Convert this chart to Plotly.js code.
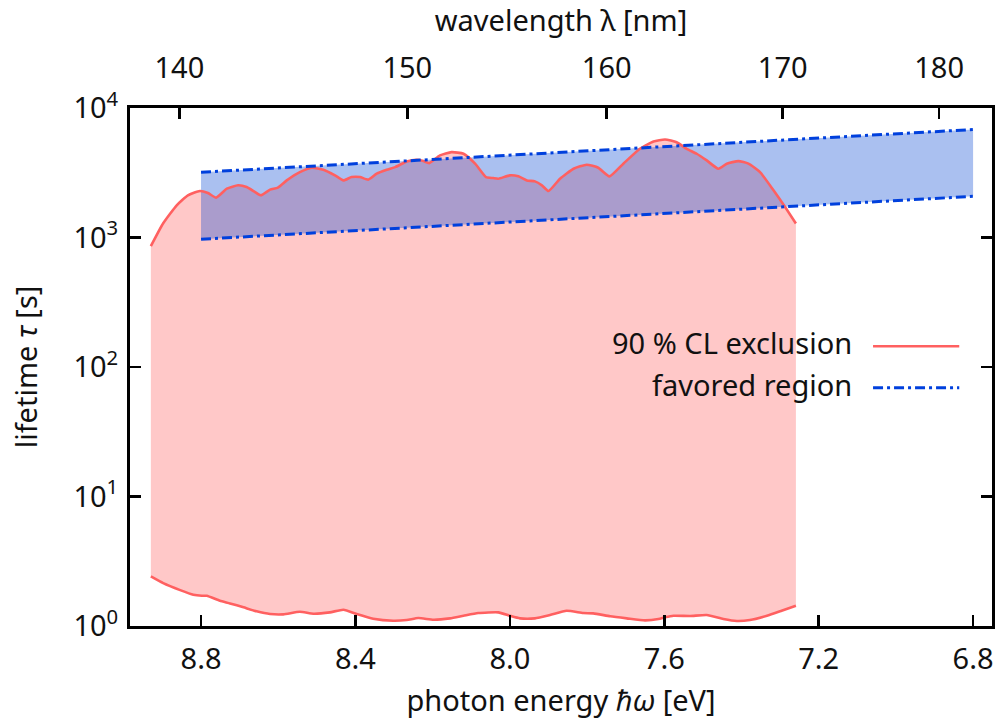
<!DOCTYPE html>
<html>
<head>
<meta charset="utf-8">
<script src="https://cdn.plot.ly/plotly-3.0.1.min.js"></script>
<style>html,body{margin:0;padding:0;background:#fff;}#chart{width:995px;height:719px;}</style>
</head>
<body>
<div id="chart"></div>
<script>
// 90 % CL exclusion: upper boundary (photon energy in eV, lifetime in s)
const exclUpperEnergy = [8.930, 8.898, 8.863, 8.834, 8.803, 8.782, 8.761, 8.733, 8.704, 8.682, 8.660, 8.645, 8.621, 8.601, 8.578, 8.544, 8.513, 8.483, 8.453, 8.431, 8.410, 8.388, 8.367, 8.345, 8.319, 8.297, 8.267, 8.241, 8.224, 8.209, 8.181, 8.151, 8.120, 8.090, 8.062, 8.043, 8.030, 8.000, 7.978, 7.956, 7.935, 7.917, 7.900, 7.870, 7.835, 7.801, 7.771, 7.742, 7.706, 7.663, 7.628, 7.598, 7.568, 7.542, 7.516, 7.490, 7.460, 7.438, 7.408, 7.382, 7.352, 7.317, 7.287, 7.259];
const exclUpperTau = [857, 1288, 1774, 2117, 2285, 2205, 2032, 2384, 2529, 2453, 2244, 2117, 2342, 2427, 2761, 3199, 3459, 3336, 3018, 2761, 2929, 2929, 2797, 3110, 3336, 3497, 3866, 3984, 3890, 3753, 4302, 4560, 4433, 3715, 2929, 2877, 2845, 3018, 2965, 2761, 2712, 2529, 2285, 2845, 3397, 3648, 3459, 2965, 3715, 4842, 5512, 5712, 5445, 4842, 4433, 3936, 3397, 3715, 3890, 3715, 3199, 2312, 1721, 1282];
// 90 % CL exclusion: lower boundary
const exclLowerEnergy = [8.930, 8.898, 8.854, 8.820, 8.798, 8.785, 8.751, 8.725, 8.690, 8.656, 8.621, 8.587, 8.544, 8.509, 8.466, 8.431, 8.397, 8.354, 8.302, 8.267, 8.237, 8.198, 8.155, 8.120, 8.082, 8.030, 8.000, 7.974, 7.935, 7.896, 7.853, 7.810, 7.784, 7.740, 7.697, 7.650, 7.615, 7.598, 7.576, 7.533, 7.490, 7.447, 7.412, 7.378, 7.334, 7.296, 7.259];
const exclLowerTau = [2.413, 2.143, 1.893, 1.742, 1.711, 1.711, 1.566, 1.495, 1.393, 1.298, 1.237, 1.230, 1.288, 1.244, 1.275, 1.335, 1.237, 1.138, 1.098, 1.112, 1.152, 1.118, 1.146, 1.200, 1.259, 1.275, 1.200, 1.146, 1.146, 1.215, 1.311, 1.259, 1.252, 1.188, 1.146, 1.106, 1.132, 1.167, 1.200, 1.194, 1.215, 1.132, 1.093, 1.112, 1.200, 1.311, 1.433];
// favored region band
const favoredEnergy = [8.8, 6.8];
const favoredUpperTau = [3190, 6820];
const favoredLowerTau = [970, 2080];
// axis ticks
const energyTicks = [8.8, 8.4, 8.0, 7.6, 7.2, 6.8];
const wavelengthTicks = [140, 150, 160, 170, 180];
const tauTicks = [1, 10, 100, 1000, 10000];
const tauTickText = ['10<sup>0</sup>', '10<sup>1</sup>', '10<sup>2</sup>', '10<sup>3</sup>', '10<sup>4</sup>'];

const HC = 1239.84; // eV nm
const xRange = [8.984, 6.751];
const FONT = 'Noto Sans, DejaVu Sans, sans-serif';
const TXT = '#111';
const FS = 29;
const RED = 'rgb(255,96,96)';
const PINK = 'rgba(255,96,96,0.35)';
const BLUE = 'rgb(0,64,221)';
const BLUEFILL = 'rgba(5,70,211,0.34)';
const DASHDOT = '10px,4px,3px,4px';

const traces = [
  // fills
  {x: exclLowerEnergy, y: exclLowerTau, mode: 'lines', line: {width: 0, shape: 'spline', smoothing: 0.5}, hoverinfo: 'skip', showlegend: false},
  {x: exclUpperEnergy, y: exclUpperTau, mode: 'lines', fill: 'tonexty', fillcolor: PINK, line: {width: 0, shape: 'spline', smoothing: 0.5}, hoverinfo: 'skip', showlegend: false},
  {x: favoredEnergy, y: favoredLowerTau, mode: 'lines', line: {width: 0}, hoverinfo: 'skip', showlegend: false},
  {x: favoredEnergy, y: favoredUpperTau, mode: 'lines', fill: 'tonexty', fillcolor: BLUEFILL, line: {width: 0}, hoverinfo: 'skip', showlegend: false},
  // lines
  {x: exclLowerEnergy, y: exclLowerTau, mode: 'lines', line: {color: RED, width: 2.6, shape: 'spline', smoothing: 0.5}, showlegend: false},
  {x: exclUpperEnergy, y: exclUpperTau, mode: 'lines', line: {color: RED, width: 2.6, shape: 'spline', smoothing: 0.5}, showlegend: false},
  {x: favoredEnergy, y: favoredLowerTau, mode: 'lines', line: {color: BLUE, width: 3, dash: DASHDOT}, showlegend: false},
  {x: favoredEnergy, y: favoredUpperTau, mode: 'lines', line: {color: BLUE, width: 3, dash: DASHDOT}, showlegend: false},
  // top (wavelength) axis holder
  {x: [], y: [], xaxis: 'x2', yaxis: 'y', mode: 'lines', showlegend: false, hoverinfo: 'skip'}
];

const axisCommon = {
  showgrid: false, zeroline: false, showline: true, linecolor: '#000', linewidth: 3,
  ticks: 'inside', ticklen: 11, tickwidth: 2.5, tickcolor: '#000',
  tickfont: {family: FONT, size: FS, color: TXT}
};

const layout = {
  width: 995, height: 719,
  margin: {l: 130, r: 3, t: 108, b: 93},
  paper_bgcolor: '#fff', plot_bgcolor: '#fff',
  font: {family: FONT, color: TXT},
  xaxis: Object.assign({}, axisCommon, {
    range: xRange, tickmode: 'array', tickvals: energyTicks,
    ticktext: energyTicks.map(v => v.toFixed(1)),
    ticklabelstandoff: 5,
    title: {text: 'photon energy <i>ℏω</i> [eV]', font: {family: FONT, size: FS, color: TXT}, standoff: 26}
  }),
  xaxis2: Object.assign({}, axisCommon, {
    overlaying: 'x', side: 'top', anchor: 'y',
    range: xRange, tickmode: 'array',
    tickvals: wavelengthTicks.map(l => HC / l),
    ticktext: wavelengthTicks.map(String),
    ticklabelstandoff: 15,
    title: {text: 'wavelength λ [nm]', font: {family: FONT, size: FS, color: TXT}, standoff: 16}
  }),
  yaxis: Object.assign({}, axisCommon, {
    type: 'log', range: [0, 4], mirror: 'ticks',
    tickmode: 'array', tickvals: tauTicks, ticktext: tauTickText,
    ticklabelstandoff: 3,
    title: {text: 'lifetime <i>τ</i> [s]', font: {family: FONT, size: FS, color: TXT}, standoff: 28}
  }),
  shapes: [
    {type: 'line', xref: 'paper', yref: 'paper', x0: 0.862, x1: 0.962, y0: 0.540, y1: 0.540, line: {color: RED, width: 2.6}},
    {type: 'line', xref: 'paper', yref: 'paper', x0: 0.862, x1: 0.962, y0: 0.460, y1: 0.460, line: {color: BLUE, width: 3, dash: DASHDOT}}
  ],
  annotations: [
    {xref: 'paper', yref: 'paper', x: 0.840, y: 0.547, xanchor: 'right', yanchor: 'middle', showarrow: false, text: '90 % CL exclusion', font: {family: FONT, size: FS, color: TXT}},
    {xref: 'paper', yref: 'paper', x: 0.840, y: 0.467, xanchor: 'right', yanchor: 'middle', showarrow: false, text: 'favored region', font: {family: FONT, size: FS, color: TXT}}
  ]
};

Plotly.newPlot('chart', traces, layout, {displayModeBar: false, staticPlot: true});
</script>
</body>
</html>
